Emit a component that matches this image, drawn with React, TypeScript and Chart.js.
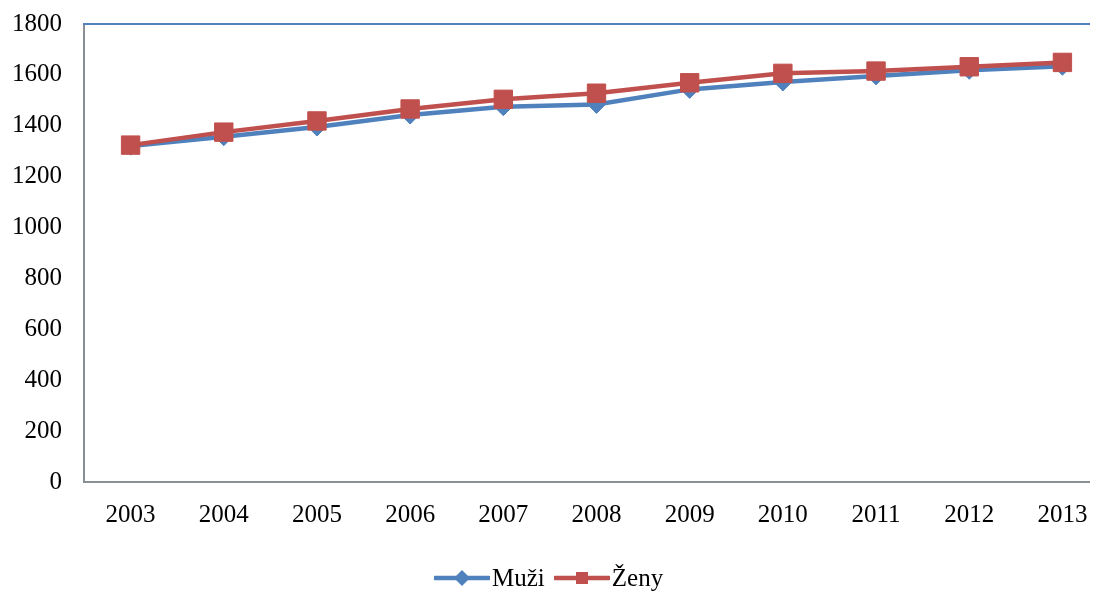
import React, { useEffect, useRef } from "react";
import { Chart, registerables } from "chart.js";

Chart.register(...registerables);

const years = ["2003", "2004", "2005", "2006", "2007", "2008", "2009", "2010", "2011", "2012", "2013"];
const muzi = [1320, 1357, 1395, 1442, 1475, 1484, 1543, 1572, 1596, 1618, 1634];
const zeny = [1324, 1375, 1419, 1466, 1504, 1528, 1569, 1606, 1615, 1632, 1649];
const seriesNames = ["Muži", "Ženy"];

const BLUE = "#4F81BD";
const RED = "#C0504D";
const AXIS = "#8A8F96";
const FONT = "'Liberation Serif', 'Times New Roman', serif";

const topLinePlugin = {
  id: "topLine",
  afterDraw(chart: any) {
    const { ctx, chartArea } = chart;
    ctx.save();
    ctx.strokeStyle = BLUE;
    ctx.lineWidth = 2;
    ctx.beginPath();
    ctx.moveTo(chartArea.left - 1, chartArea.top);
    ctx.lineTo(chartArea.right, chartArea.top);
    ctx.stroke();
    ctx.restore();
  },
};

export default function App() {
  const ref = useRef<HTMLCanvasElement>(null);

  useEffect(() => {
    document.body.style.overflow = "hidden";
    if (!ref.current) return;
    const chart = new Chart(ref.current, {
      type: "line",
      data: {
        labels: years,
        datasets: [
          {
            label: seriesNames[0],
            data: muzi,
            borderColor: BLUE,
            backgroundColor: BLUE,
            borderWidth: 4.5,
            pointStyle: "rectRot",
            pointRadius: 9,
            pointBorderWidth: 1,
            pointBorderColor: BLUE,
            pointBackgroundColor: BLUE,
            tension: 0,
            order: 1,
          },
          {
            label: seriesNames[1],
            data: zeny,
            borderColor: RED,
            backgroundColor: RED,
            borderWidth: 4.5,
            pointStyle: "rect",
            pointRadius: 13,
            pointBorderWidth: 1,
            pointBorderColor: RED,
            pointBackgroundColor: RED,
            tension: 0,
            order: 0,
          },
        ],
      },
      options: {
        responsive: false,
        animation: false,
        devicePixelRatio: 1,
        layout: { padding: { top: 16, right: 1, bottom: 0, left: 0 } },
        plugins: {
          legend: { display: false },
          tooltip: { enabled: false },
        },
        scales: {
          x: {
            offset: true,
            grid: { display: false, drawTicks: false },
            border: { display: true, color: AXIS, width: 2 },
            ticks: {
              color: "#000",
              font: { family: FONT, size: 25 },
              padding: 18,
              autoSkip: false,
              maxRotation: 0,
            },
            afterFit(scale: any) {
              scale.height = 110;
              scale.paddingLeft = 0;
              scale.paddingRight = 0;
            },
          },
          y: {
            min: 0,
            max: 1800,
            grid: { display: false, drawTicks: false },
            border: { display: true, color: AXIS, width: 2 },
            ticks: {
              stepSize: 200,
              color: "#000",
              font: { family: FONT, size: 25 },
              padding: 22,
              callback: (v: any) => String(v),
            },
            afterFit(scale: any) {
              scale.width = 76;
              scale.paddingTop = 0;
              scale.paddingBottom = 0;
            },
          },
        },
      },
      plugins: [topLinePlugin],
    });
    return () => chart.destroy();
  }, []);

  const legendText: React.CSSProperties = {
    fontFamily: FONT,
    fontSize: 25,
    color: "#000",
    lineHeight: "26px",
  };

  return (
    <div style={{ position: "relative", width: 1090, height: 584, overflow: "hidden" }}>
      <div style={{ width: 1115, height: 584 }}>
        <canvas ref={ref} width={1115} height={584} style={{ display: "block", width: 1115, height: 584 }} />
      </div>
      <div
        style={{
          position: "absolute",
          left: 426,
          top: 557,
          display: "flex",
          alignItems: "center",
          height: 26,
        }}
      >
        <svg width={56} height={20} style={{ display: "block" }}>
          <line x1={1} y1={10} x2={55} y2={10} stroke={BLUE} strokeWidth={4.5} strokeLinecap="round" />
          <polygon points="28,2 36,10 28,18 20,10" fill={BLUE} />
        </svg>
        <span style={{ ...legendText, marginLeft: 2 }}>{seriesNames[0]}</span>
        <svg width={56} height={20} style={{ display: "block", marginLeft: 9 }}>
          <line x1={1} y1={10} x2={55} y2={10} stroke={RED} strokeWidth={4.5} strokeLinecap="round" />
          <rect x={22} y={4} width={12} height={12} fill={RED} />
        </svg>
        <span style={{ ...legendText, marginLeft: 2 }}>{seriesNames[1]}</span>
      </div>
    </div>
  );
}
